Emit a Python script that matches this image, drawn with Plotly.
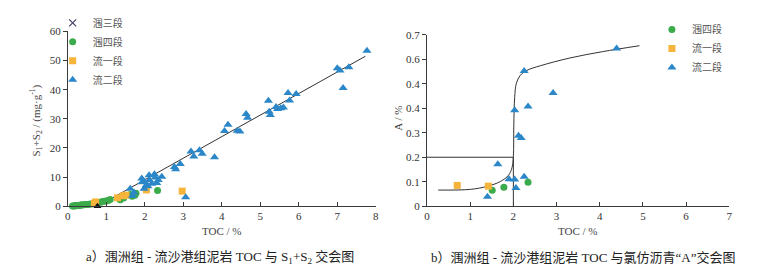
import plotly.graph_objects as go

# ---------------- Data: chart a (TOC vs S1+S2) ----------------
w3_toc = [None]
w3_s = [None]

w4_toc = [0.12, 0.15, 0.18, 0.20, 0.22, 0.25, 0.28, 0.30, 0.33, 0.36, 0.40, 0.43, 0.46,
          0.50, 0.55, 0.60, 0.65, 0.70, 0.75, 0.80, 0.85, 0.90, 0.95, 1.00, 1.05, 1.10,
          1.36, 1.45, 1.62, 1.67, 1.74, 1.77, 2.33]
w4_s = [0.1, 0.1, 0.2, 0.2, 0.2, 0.3, 0.3, 0.3, 0.4, 0.4, 0.5, 0.5, 0.6,
        0.6, 0.7, 0.8, 0.9, 1.0, 1.1, 1.3, 1.4, 1.6, 1.7, 1.8, 2.0, 2.3,
        2.2, 2.8, 4.0, 3.4, 3.8, 4.5, 5.4]

l1_toc = [0.69, 0.72, 1.29, 1.44, 1.51, 2.04, 2.97]
l1_s = [1.0, 1.5, 2.9, 3.6, 3.8, 5.6, 5.2]

l2_toc = [1.62, 1.72, 1.68, 1.92, 1.93, 1.98, 2.04, 2.11, 2.12, 2.18, 2.25, 2.27, 2.31,
          2.35, 2.44, 2.08, 2.00, 2.77, 2.80, 2.92, 3.06, 3.20, 3.27, 3.42, 3.49, 3.81,
          4.07, 4.16, 4.40, 4.47, 4.63, 4.67, 5.21, 5.23, 5.26, 5.41, 5.45, 5.53, 5.60,
          5.72, 5.76, 5.93, 7.00, 7.07, 7.15, 7.30, 7.77]
l2_s = [6.0, 4.7, 3.6, 9.5, 8.2, 6.0, 7.3, 10.6, 9.0, 7.7, 11.0, 9.9, 8.0,
        9.0, 10.1, 6.9, 8.3, 13.5, 12.7, 14.5, 3.1, 18.8, 17.1, 19.2, 18.0, 16.8,
        25.8, 28.0, 25.9, 25.7, 31.7, 30.4, 36.2, 32.4, 31.3, 34.1, 33.4, 33.6, 33.9,
        38.9, 36.3, 38.5, 47.4, 46.6, 40.6, 47.7, 53.4]

# fitted trend line for chart a: y = slope * (TOC - x0)
fit_x0 = 0.77
fit_slope = 7.4
fit_xend = 7.73

# ---------------- Data: chart b (TOC vs chloroform bitumen "A") ----------------
b_w4_toc = [1.51, 1.78, 2.34]
b_w4_a = [0.065, 0.078, 0.098]
b_l1_toc = [0.70, 1.42]
b_l1_a = [0.085, 0.082]
b_l2_toc = [1.40, 1.64, 1.90, 2.03, 2.06, 2.03, 2.12, 2.18, 2.25, 2.25, 2.34, 2.92, 4.39]
b_l2_a = [0.039, 0.171, 0.110, 0.109, 0.074, 0.392, 0.288, 0.279, 0.552, 0.120, 0.407, 0.462, 0.644]

# trend curve for chart b
curve_toc = [0.26, 1.01, 1.39, 1.70, 1.89, 1.97, 2.00, 2.01, 2.03, 2.07, 2.16, 2.31, 2.62, 3.31, 4.07, 4.92]
curve_a = [0.066, 0.069, 0.081, 0.101, 0.127, 0.159, 0.204, 0.327, 0.444, 0.502, 0.534, 0.554, 0.573, 0.605, 0.631, 0.655]
# threshold guide lines (TOC = 2 %, A = 0.2 %)
thr_toc = 2.0
thr_a = 0.2

y2_tickvals = [0, 0.1, 0.2, 0.3, 0.4, 0.5, 0.6, 0.7]
y2_ticktext = ["0", "0.1", "0.2", "0.3", "0.4", "0.4", "0.6", "0.7"]

# ---------------- Styles ----------------
BLUE = "#2b87c8"
GREEN = "#3cab4b"
ORANGE = "#f6b43a"
XCOL = "#4a4a6a"
AX = "#3a3a3a"
SERIF = "Liberation Serif, Times New Roman, serif"
CJK = "Liberation Serif, Noto Sans CJK SC, serif"

W, H = 762, 268
def px(x):
    return x / W
def py(y):
    return 1 - y / H

fig = go.Figure()

ms = dict(tri=dict(symbol="triangle-up", size=8, color=BLUE),
          dot=dict(symbol="circle", size=7, color=GREEN),
          sq=dict(symbol="square", size=7, color=ORANGE),
          x=dict(symbol="x-thin", size=7, color=XCOL, line=dict(width=1.3, color=XCOL)))

# chart a
fig.add_trace(go.Scatter(x=[fit_x0, fit_xend], y=[0, fit_slope * (fit_xend - fit_x0)],
                         mode="lines", line=dict(color="#333", width=1), showlegend=False,
                         xaxis="x", yaxis="y", hoverinfo="skip"))
fig.add_trace(go.Scatter(x=w3_toc, y=w3_s, mode="markers", name="涠三段", marker=ms["x"],
                         xaxis="x", yaxis="y", legend="legend", cliponaxis=False))
fig.add_trace(go.Scatter(x=w4_toc, y=w4_s, mode="markers", name="涠四段", marker=ms["dot"],
                         xaxis="x", yaxis="y", legend="legend", cliponaxis=False))
fig.add_trace(go.Scatter(x=l1_toc, y=l1_s, mode="markers", name="流一段", marker=ms["sq"],
                         xaxis="x", yaxis="y", legend="legend", cliponaxis=False))
fig.add_trace(go.Scatter(x=l2_toc, y=l2_s, mode="markers", name="流二段", marker=ms["tri"],
                         xaxis="x", yaxis="y", legend="legend", cliponaxis=False))
fig.add_trace(go.Scatter(x=[fit_x0], y=[0], mode="markers",
                         marker=dict(symbol="triangle-up", size=7, color="#111"),
                         showlegend=False, xaxis="x", yaxis="y", cliponaxis=False))

# chart b
fig.add_trace(go.Scatter(x=[0, thr_toc, thr_toc], y=[thr_a, thr_a, 0], mode="lines",
                         line=dict(color="#333", width=1), showlegend=False,
                         xaxis="x2", yaxis="y2", hoverinfo="skip"))
fig.add_trace(go.Scatter(x=curve_toc, y=curve_a, mode="lines", line_shape="spline",
                         line=dict(color="#333", width=1), showlegend=False,
                         xaxis="x2", yaxis="y2", hoverinfo="skip"))
fig.add_trace(go.Scatter(x=b_w4_toc, y=b_w4_a, mode="markers", name="涠四段", marker=ms["dot"],
                         xaxis="x2", yaxis="y2", legend="legend2", cliponaxis=False))
fig.add_trace(go.Scatter(x=b_l1_toc, y=b_l1_a, mode="markers", name="流一段", marker=ms["sq"],
                         xaxis="x2", yaxis="y2", legend="legend2", cliponaxis=False))
fig.add_trace(go.Scatter(x=b_l2_toc, y=b_l2_a, mode="markers", name="流二段", marker=ms["tri"],
                         xaxis="x2", yaxis="y2", legend="legend2", cliponaxis=False))

axis_common = dict(showgrid=False, zeroline=False, showline=True, linecolor=AX, linewidth=1,
                   tickcolor=AX, ticklen=4, tickwidth=1,
                   tickfont=dict(family=SERIF, size=11, color="#333"))

fig.update_layout(
    width=W, height=H, margin=dict(l=0, r=0, t=0, b=0),
    paper_bgcolor="white", plot_bgcolor="white",
    xaxis=dict(domain=[px(57.3), px(367.7)], range=[0, 8], dtick=1, ticks="inside",
               anchor="y", **axis_common),
    yaxis=dict(domain=[py(201), py(17.3)], range=[0, 60], dtick=10, ticks="outside",
               anchor="x", **axis_common),
    xaxis2=dict(domain=[px(419.3), px(724)], range=[0, 7], dtick=1, ticks="inside",
                anchor="y2", **axis_common),
    yaxis2=dict(domain=[py(201), py(20.7)], range=[0, 0.7], tickvals=y2_tickvals,
                ticktext=y2_ticktext, ticks="outside", anchor="x2", **axis_common),
    legend=dict(x=px(42), y=py(-7), xanchor="left", yanchor="top", bgcolor="rgba(0,0,0,0)",
                font=dict(family=CJK, size=10, color="#555"), tracegroupgap=0,
                itemwidth=30),
    legend2=dict(x=px(646), y=py(0), xanchor="left", yanchor="top", bgcolor="rgba(0,0,0,0)",
                 font=dict(family=CJK, size=10, color="#555"), tracegroupgap=0,
                 itemwidth=30),
    showlegend=True,
)

def note(text, x, y, size=11, color="#444", family=SERIF, angle=0):
    return dict(text=text, x=px(x), y=py(y), xref="paper", yref="paper", showarrow=False,
                xanchor="center", yanchor="middle", textangle=angle,
                font=dict(family=family, size=size, color=color))

ann = [
    note("TOC / %", 212.5, 227),
    note("TOC / %", 571.5, 227),
    note("S<sub>1</sub>+S<sub>2</sub> / (mg·g<sup>-1</sup>)", 25, 111, angle=-90),
    note("A / %", 390, 108, angle=-90),
    note("a）涠洲组 - 流沙港组泥岩 TOC 与 S<sub>1</sub>+S<sub>2</sub> 交会图", 211, 255,
         size=13, color="#222", family=CJK),
    note("b）涠洲组 - 流沙港组泥岩 TOC 与氯仿沥青“A”交会图", 577, 255,
         size=13, color="#222", family=CJK),
]
fig.update_layout(annotations=ann)

fig.write_html("out.html")
